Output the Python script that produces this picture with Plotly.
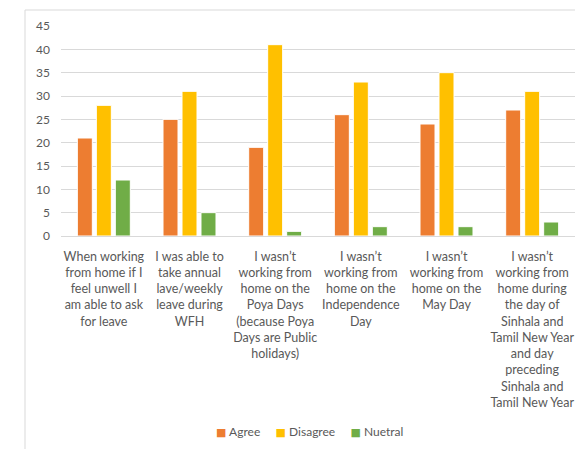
import plotly.graph_objects as go

categories = [
    "When working<br>from home if I<br>feel unwell I<br>am able to ask<br>for leave",
    "I was able to<br>take annual<br>lave/weekly<br>leave during<br>WFH",
    "I wasn’t<br>working from<br>home on the<br>Poya Days<br>(because Poya<br>Days are Public<br>holidays)",
    "I wasn’t<br>working from<br>home on the<br>Independence<br>Day",
    "I wasn’t<br>working from<br>home on the<br>May Day",
    "I wasn’t<br>working from<br>home during<br>the day of<br>Sinhala and<br>Tamil New Year<br>and day<br>preceding<br>Sinhala and<br>Tamil New Year",
]
agree = [21, 25, 19, 26, 24, 27]
disagree = [28, 31, 41, 33, 35, 31]
neutral = [12, 5, 1, 2, 2, 3]
series_names = ["Agree", "Disagree", "Nuetral"]
colors = ["#ED7D31", "#FFC000", "#70AD47"]
y_ticks = [0, 5, 10, 15, 20, 25, 30, 35, 40, 45]

FONT = "Lato"
fig = go.Figure()
for name, vals, col in zip(series_names, [agree, disagree, neutral], colors):
    fig.add_trace(go.Bar(x=categories, y=vals, name=name,
                         marker=dict(color=col, line=dict(color="white", width=1)),
                         showlegend=False))

fig.update_layout(
    width=575, height=449,
    margin=dict(l=61, r=0, t=26, b=213),
    paper_bgcolor="white", plot_bgcolor="white",
    barmode="group", bargap=0.335, bargroupgap=0.21,
    font=dict(family=FONT, size=12, color="#595959"),
    showlegend=False,
)
fig.update_xaxes(tickfont=dict(size=12.5, color="#595959"), showline=False,
                 ticks="", ticklabelstandoff=11)
fig.update_yaxes(range=[0, 45], tickvals=y_ticks, showgrid=True, gridcolor="#D9D9D9",
                 gridwidth=1, zeroline=True, zerolinecolor="#D9D9D9", zerolinewidth=1,
                 tickfont=dict(size=12, color="#595959"), ticks="", ticklabelstandoff=10)

# legend row built from the series names and colours
sep = "&nbsp;" * 5
legend_text = sep.join(
    f"<span style='color:{c};font-family:DejaVu Sans;font-size:11px'>■</span>&nbsp;{n}"
    for n, c in zip(series_names, colors))
fig.add_annotation(text=legend_text, xref="paper", yref="paper", x=(309 - 61) / 514,
                   y=(236 - 431) / 210, xanchor="center", yanchor="middle",
                   showarrow=False, font=dict(family=FONT, size=12, color="#595959"))

# outer chart border (left and top edges visible)
fig.add_shape(type="rect", xref="paper", yref="paper",
              x0=(25 - 61) / 514, x1=1.2, y0=-1.3, y1=1 + 16 / 210,
              line=dict(color="#D9D9D9", width=1), layer="below")

fig.write_html("out.html")
